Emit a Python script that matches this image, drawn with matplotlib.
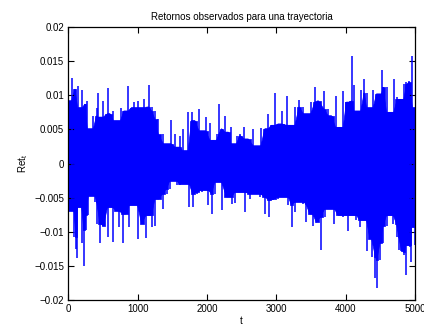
import matplotlib
matplotlib.use("Agg")
import matplotlib.pyplot as plt
import numpy as np

plt.rcParams["font.family"] = ["Liberation Sans", "DejaVu Sans"]

# upper envelope of the returns (t, value)
t_up = [0, 48, 97, 135, 169, 202, 241, 274, 313, 361, 409, 423, 457, 505, 567,
        601, 649, 697, 754, 802, 865, 913, 951, 999, 1057, 1095, 1158, 1201,
        1249, 1297, 1369, 1417, 1480, 1537, 1561, 1609, 1648, 1681, 1729, 1777,
        1825, 1883, 1922, 1979, 2042, 2090, 2138, 2171, 2210, 2258, 2306, 2345,
        2378, 2426, 2474, 2537, 2594, 2666, 2715, 2777, 2835, 2883, 2931, 2979,
        3027, 3075, 3147, 3195, 3267, 3329, 3387, 3435, 3497, 3555, 3603, 3685,
        3747, 3795, 3853, 3915, 3963, 4011, 4059, 4088, 4117, 4155, 4218, 4266,
        4300, 4348, 4396, 4444, 4516, 4540, 4588, 4636, 4693, 4741, 4789, 4837,
        4876, 4914, 4962, 5000]
ret_up = [0.0092, 0.0125, 0.0109, 0.0114, 0.0082, 0.0107, 0.0087, 0.0092,
          0.0051, 0.0070, 0.0082, 0.0103, 0.0068, 0.0092, 0.0111, 0.0073,
          0.0077, 0.0063, 0.0081, 0.0077, 0.0113, 0.0082, 0.0090, 0.0091,
          0.0082, 0.0094, 0.0115, 0.0083, 0.0077, 0.0065, 0.0043, 0.0029,
          0.0064, 0.0043, 0.0024, 0.0041, 0.0051, 0.0019, 0.0075, 0.0075,
          0.0063, 0.0080, 0.0048, 0.0068, 0.0060, 0.0034, 0.0043, 0.0087,
          0.0051, 0.0069, 0.0046, 0.0054, 0.0029, 0.0041, 0.0043, 0.0053,
          0.0036, 0.0051, 0.0026, 0.0052, 0.0051, 0.0073, 0.0056, 0.0104,
          0.0058, 0.0077, 0.0099, 0.0056, 0.0083, 0.0093, 0.0083, 0.0073,
          0.0090, 0.0112, 0.0092, 0.0106, 0.0080, 0.0070, 0.0099, 0.0053,
          0.0106, 0.0090, 0.0092, 0.0158, 0.0115, 0.0077, 0.0108, 0.0124,
          0.0104, 0.0082, 0.0108, 0.0102, 0.0137, 0.0112, 0.0112, 0.0075,
          0.0124, 0.0097, 0.0094, 0.0116, 0.0119, 0.0121, 0.0158, 0.0082]

# lower envelope of the returns
t_lo = [0, 48, 82, 111, 130, 159, 193, 226, 255, 289, 337, 385, 409, 457, 505,
        567, 601, 639, 687, 725, 793, 831, 879, 927, 999, 1057, 1119, 1153,
        1201, 1249, 1307, 1359, 1417, 1465, 1513, 1561, 1609, 1681, 1744, 1792,
        1849, 1921, 1969, 2017, 2065, 2113, 2161, 2210, 2282, 2354, 2402, 2474,
        2546, 2618, 2690, 2763, 2835, 2897, 2955, 3027, 3099, 3171, 3219, 3267,
        3339, 3387, 3425, 3483, 3521, 3579, 3637, 3699, 3771, 3834, 3891, 3963,
        4026, 4083, 4155, 4203, 4242, 4300, 4348, 4372, 4429, 4448, 4492, 4540,
        4588, 4636, 4684, 4732, 4765, 4804, 4837, 4866, 4900, 4924, 4948, 4982,
        5000]
ret_lo = [-0.0108, -0.0069, -0.0108, -0.0125, -0.0138, -0.0064, -0.0117,
          -0.0150, -0.0098, -0.0076, -0.0047, -0.0056, -0.0088, -0.0116,
          -0.0091, -0.0108, -0.0064, -0.0115, -0.0069, -0.0093, -0.0116,
          -0.0074, -0.0093, -0.0061, -0.0111, -0.0088, -0.0109, -0.0076,
          -0.0093, -0.0091, -0.0052, -0.0066, -0.0044, -0.0037, -0.0025,
          -0.0032, -0.0032, -0.0030, -0.0064, -0.0064, -0.0044, -0.0042,
          -0.0039, -0.0061, -0.0074, -0.0044, -0.0027, -0.0068, -0.0049,
          -0.0059, -0.0058, -0.0042, -0.0071, -0.0052, -0.0044, -0.0049,
          -0.0074, -0.0078, -0.0054, -0.0052, -0.0049, -0.0061, -0.0093,
          -0.0071, -0.0056, -0.0059, -0.0086, -0.0074, -0.0092, -0.0086,
          -0.0126, -0.0078, -0.0066, -0.0088, -0.0076, -0.0078, -0.0099,
          -0.0076, -0.0083, -0.0093, -0.0083, -0.0128, -0.0110, -0.0137,
          -0.0167, -0.0183, -0.0142, -0.0117, -0.0091, -0.0076, -0.0088,
          -0.0108, -0.0127, -0.0130, -0.0134, -0.0164, -0.0120, -0.0123,
          -0.0144, -0.0093, -0.0120]

x_ticks = [0, 1000, 2000, 3000, 4000, 5000]
y_ticks = [-0.02, -0.015, -0.01, -0.005, 0, 0.005, 0.01, 0.015, 0.02]
y_labels = ["\u22120.02", "\u22120.015", "\u22120.01", "\u22120.005", "0",
            "0.005", "0.01", "0.015", "0.02"]


def _base(vals, fn):
    # body of the band: each point limited by its neighbours
    v = np.asarray(vals)
    p = np.r_[v[:1], v, v[-1:]]
    return fn(fn(p[:-2], p[1:-1]), p[2:])


fig = plt.figure(figsize=(4.24, 3.29), dpi=100)
ax = fig.add_axes([0.161, 0.088, 0.818, 0.830])

blue = "#0000ff"
up_base = _base(ret_up, np.minimum)
lo_base = _base(ret_lo, np.maximum)
ax.fill(np.r_[t_up, t_lo[::-1]], np.r_[up_base, lo_base[::-1]],
        facecolor=blue, edgecolor=blue, lw=0.5)
ax.fill_between(t_up, 0, up_base, step="mid", color=blue, lw=0.5)
ax.fill_between(t_lo, lo_base, 0, step="mid", color=blue, lw=0.5)
# spikes
ax.vlines(t_up, 0, ret_up, color=blue, lw=1.1)
ax.vlines(t_lo, ret_lo, 0, color=blue, lw=1.1)

ax.set_xlim(0, 5000)
ax.set_ylim(-0.02, 0.02)
ax.set_xticks(x_ticks)
ax.set_yticks(y_ticks)
ax.set_yticklabels(y_labels)
ax.tick_params(direction="in", length=4, width=0.8, labelsize=7,
               top=True, right=True, pad=3)
for s in ax.spines.values():
    s.set_linewidth(0.9)

ax.set_title("Retornos observados para una trayectoria", fontsize=7, pad=5)
ax.set_xlabel("t", fontsize=7, labelpad=1)
ax.set_ylabel("Ret$_\\mathregular{t}$", fontsize=7, labelpad=3)

fig.savefig("out.png", dpi=100)
